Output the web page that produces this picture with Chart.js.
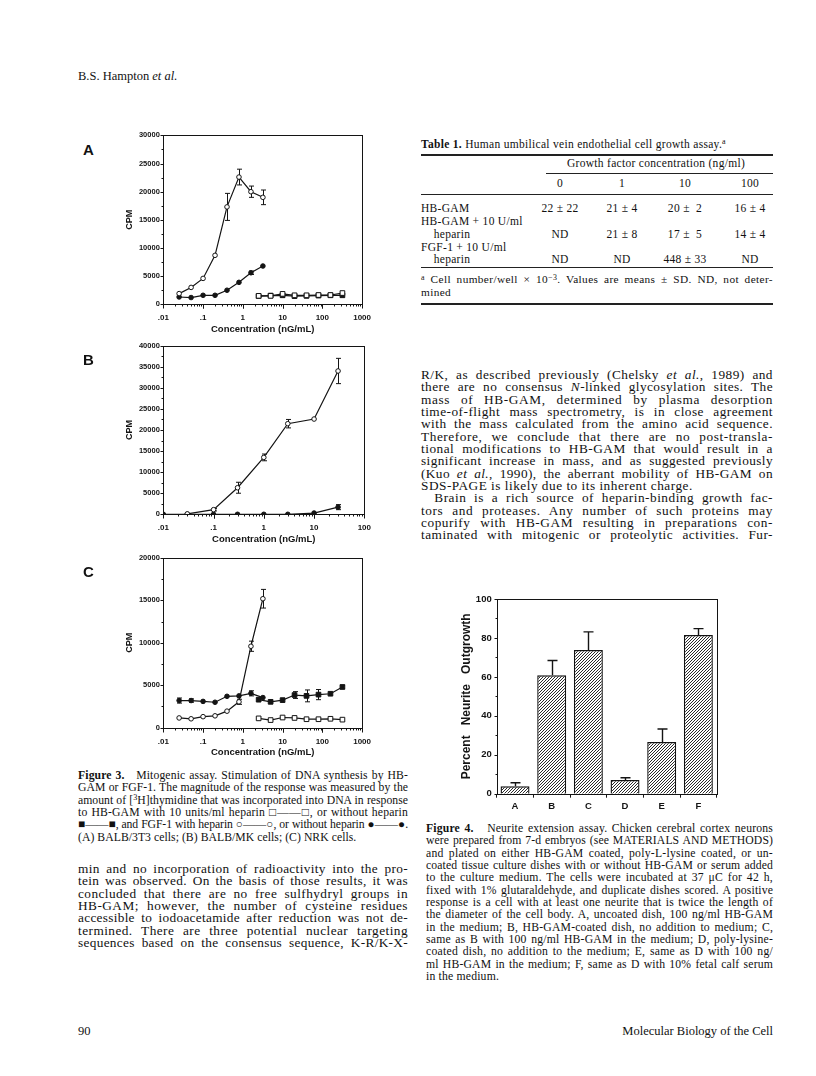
<!DOCTYPE html>
<html>
<head>
<meta charset="utf-8">
<script src="https://cdn.jsdelivr.net/npm/chart.js@4.4.1/dist/chart.umd.min.js"></script>
<style>
  html, body { margin: 0; padding: 0; background: #fff; }
  body { width: 816px; height: 1076px; position: relative; overflow: hidden; color: #111;
         font-family: 'Liberation Serif', 'DejaVu Serif', serif; }
  .ln { position: absolute; text-align: justify; text-align-last: justify; }
  .ln.l { text-align: left; text-align-last: left; }
  .tx { position: absolute; white-space: nowrap; }
  .rule { position: absolute; background: #222; }
  .lab { position: absolute; font: bold 15px 'Liberation Sans', Arial, sans-serif; }
  .sup { font-size: 70%; position: relative; top: -0.45em; }
  canvas { position: absolute; }
</style>
</head>
<body>
<canvas id="figA"></canvas>
<canvas id="figB"></canvas>
<canvas id="figC"></canvas>
<canvas id="fig4"></canvas>
<div id="page"></div>
<script>
// ---- 図3 A (BALB/3T3) ----
const concCircA = [0.025, 0.05, 0.1, 0.2, 0.4, 0.8, 1.6, 3.2];
const fgfHepA = [1900, 3000, 4600, 8700, 17300, 22600, 20000, 19000];
const fgfHepErrA = [0, 0, 0, 0, 2400, 1400, 1000, 1300];
const fgfA = [1300, 1200, 1600, 1600, 2500, 3900, 5600, 6800];
const fgfErrA = [0, 0, 0, 0, 0, 0, 300, 0];
const concSqA = [2.5, 5, 10, 20, 40, 80, 160, 320];
const gamHepA = [1500, 1500, 1850, 1600, 1600, 1650, 1650, 2000];
const gamA = [1450, 1550, 1600, 1450, 1500, 1550, 1600, 1600];

// ---- 図3 B (BALB/MK) ----
const concB = [0.03, 0.1, 0.3, 1, 3, 10, 30];
const fgfHepB = [100, 1100, 6300, 13500, 21500, 22600, 34000];
const fgfHepErrB = [0, 300, 1300, 800, 1000, 0, 3000];
const concFgfB = [0.01, 0.03, 0.1, 0.3, 1, 3, 10, 30];
const fgfB = [0, 0, 0, 0, 0, 0, 300, 1700];
const fgfErrB = [0, 0, 0, 0, 0, 0, 0, 600];

// ---- 図3 C (NRK) ----
const concCircC = [0.025, 0.05, 0.1, 0.2, 0.4, 0.8, 1.6, 3.2];
const fgfHepC = [1150, 1050, 1300, 1400, 1950, 3050, 9600, 15200];
const fgfHepErrC = [0, 0, 0, 0, 0, 300, 600, 1100];
const fgfC = [3200, 3200, 3100, 3000, 3700, 3750, 4050, 3550];
const fgfErrC = [300, 200, 0, 0, 0, 0, 300, 0];
const concSqC = [2.5, 5, 10, 20, 40, 80, 160, 320];
const gamHepC = [1100, 900, 1200, 1150, 1000, 1000, 1050, 950];
const gamC = [3300, 3050, 3250, 3850, 3750, 3900, 4000, 4800];
const gamErrC = [0, 0, 0, 400, 700, 600, 0, 200];

// 軸の目盛
const xTicks3 = [0.01, 0.1, 1, 10, 100, 1000];
const xLabels3 = ['.01', '.1', '1', '10', '100', '1000'];
const xTicksB = [0.01, 0.1, 1, 10, 100];
const xLabelsB = ['.01', '.1', '1', '10', '100'];

// ---- 図4 ----
const groups4 = ['A', 'B', 'C', 'D', 'E', 'F'];
const outgrowth = [3.8, 60.8, 73.8, 7.0, 26.5, 81.5];
const outgrowthErr = [1.8, 7.6, 9.3, 1.2, 6.7, 3.3];

const INK = '#141414';
const SANS = "'Liberation Sans', Arial, sans-serif";

// 枠と細かい目盛を描くプラグイン
const axisMarks = {
  id: 'axisMarks',
  afterDraw(chart) {
    const { ctx, chartArea: a } = chart;
    const xs = chart.scales.x, ys = chart.scales.y;
    const L = Math.round(a.left) + 0.5, R = Math.round(a.right) + 0.5;
    const T = Math.round(a.top) + 0.5, B = Math.round(a.bottom) + 0.5;
    ctx.save();
    ctx.strokeStyle = INK;
    ctx.lineWidth = 1;
    ctx.strokeRect(L, T, R - L, B - T);
    ctx.beginPath();
    const yt = ys.ticks.map(t => t.value);
    yt.forEach((v, i) => {
      const p = Math.round(ys.getPixelForValue(v)) + 0.5;
      ctx.moveTo(L - 3, p); ctx.lineTo(L, p);
      if (i < yt.length - 1) {
        const m = Math.round(ys.getPixelForValue((v + yt[i + 1]) / 2)) + 0.5;
        ctx.moveTo(L - 2, m); ctx.lineTo(L, m);
      }
    });
    if (xs.type === 'logarithmic') {
      for (let d = xs.min; d < xs.max * 0.999; d *= 10) {
        for (let m = 1; m <= 10; m++) {
          const v = d * m;
          if (v > xs.max * 1.001) break;
          const p = Math.round(xs.getPixelForValue(v)) + 0.5;
          const len = (m === 1 || m === 10) ? 4 : 2;
          ctx.moveTo(p, B); ctx.lineTo(p, B + len);
        }
      }
    }
    ctx.stroke();
    ctx.restore();
  }
};

// エラーバー
function errorBars(chart, onlyUp) {
  const { ctx } = chart;
  const ys = chart.scales.y;
  ctx.save();
  ctx.strokeStyle = INK;
  chart.data.datasets.forEach((ds, i) => {
    if (!ds.errors) return;
    const meta = chart.getDatasetMeta(i);
    ctx.lineWidth = ds.errWidth || 1;
    meta.data.forEach((el, j) => {
      const e = ds.errors[j];
      if (!e) return;
      const raw = ds.data[j];
      const v = typeof raw === 'number' ? raw : raw.y;
      const top = ys.getPixelForValue(v + e);
      const bot = onlyUp ? el.y : ys.getPixelForValue(v - e);
      const cap = ds.capHalf || 2.5;
      const x = Math.round(el.x) + 0.5;
      ctx.beginPath();
      ctx.moveTo(x, top); ctx.lineTo(x, bot);
      ctx.moveTo(x - cap, top); ctx.lineTo(x + cap, top);
      if (!onlyUp) { ctx.moveTo(x - cap, bot); ctx.lineTo(x + cap, bot); }
      ctx.stroke();
    });
  });
  ctx.restore();
}
const errLine = { id: 'errLine', beforeDatasetsDraw(chart) { errorBars(chart, false); } };
const errBar = { id: 'errBar', afterDatasetsDraw(chart) { errorBars(chart, true); } };

function series(xs, ys, errs, filled, style) {
  return {
    data: xs.map((x, i) => ({ x: x, y: ys[i] })),
    errors: errs,
    borderColor: INK,
    borderWidth: 1.2,
    pointStyle: style,
    pointRadius: style === 'rect' ? 3.3 : 2.3,
    pointBorderWidth: 1,
    pointBorderColor: INK,
    pointBackgroundColor: filled ? INK : '#fff',
    tension: 0
  };
}

function logChart(id, area, xTicks, xLabels, xMax, yMax, yStep, datasets) {
  const cv = document.getElementById(id);
  const left = Math.floor(area.left) - 53;
  const top = Math.floor(area.top) - 12;
  const W = Math.ceil(area.right) + 12 - left;
  const H = Math.ceil(area.bottom + 31) - top;
  const yW = area.left - left;
  const padT = area.top - top;
  const padR = left + W - area.right;
  const xH = top + H - area.bottom;
  cv.style.left = left + 'px';
  cv.style.top = top + 'px';
  cv.width = W; cv.height = H;
  new Chart(cv, {
    type: 'line',
    data: { datasets: datasets },
    options: {
      responsive: false,
      animation: false,
      devicePixelRatio: 1,
      layout: { padding: { left: 0, top: padT, right: padR, bottom: 0 } },
      plugins: { legend: { display: false }, tooltip: { enabled: false } },
      scales: {
        x: {
          type: 'logarithmic', min: 0.01, max: xMax,
          grid: { display: false, drawTicks: false }, border: { display: false },
          afterBuildTicks: s => { s.ticks = xTicks.map(v => ({ value: v })); },
          afterFit: s => { s.height = xH; },
          ticks: {
            autoSkip: false, maxRotation: 0, padding: 9, color: INK,
            font: { family: SANS, size: 8, weight: 'bold' },
            callback: (v, i) => xLabels[i]
          },
          title: {
            display: true, text: 'Concentration (nG/mL)', color: INK,
            font: { family: SANS, size: 9.5, weight: 'bold' },
            padding: { top: 0, bottom: xH - 25 - 5.7 }
          }
        },
        y: {
          min: 0, max: yMax,
          grid: { display: false, drawTicks: false }, border: { display: false },
          afterFit: s => { s.width = yW; },
          ticks: {
            stepSize: yStep, padding: 3.5, color: INK,
            font: { family: SANS, size: 7.5, weight: 'bold' },
            callback: v => String(v)
          },
          title: {
            display: true, text: 'CPM', color: INK,
            font: { family: SANS, size: 9, weight: 'bold' },
            padding: { top: yW - 33.3 - 5.4, bottom: 0 }
          }
        }
      }
    },
    plugins: [errLine, axisMarks]
  });
}

logChart('figA', { left: 163.3, right: 367.3, top: 135.4, bottom: 304.3 }, xTicks3, xLabels3, 1000, 30000, 5000, [
  series(concCircA, fgfHepA, fgfHepErrA, false, 'circle'),
  series(concCircA, fgfA, fgfErrA, true, 'circle'),
  series(concSqA, gamHepA, null, false, 'rect'),
  series(concSqA, gamA, null, true, 'rect')
]);
logChart('figB', { left: 163.3, right: 367.3, top: 345.7, bottom: 514.3 }, xTicksB, xLabelsB, 100, 40000, 5000, [
  series(concB, fgfHepB, fgfHepErrB, false, 'circle'),
  series(concFgfB, fgfB, fgfErrB, true, 'circle')
]);
logChart('figC', { left: 163.3, right: 367.3, top: 558, bottom: 727.7 }, xTicks3, xLabels3, 1000, 20000, 5000, [
  series(concCircC, fgfHepC, fgfHepErrC, false, 'circle'),
  series(concCircC, fgfC, fgfErrC, true, 'circle'),
  series(concSqC, gamHepC, null, false, 'rect'),
  series(concSqC, gamC, gamErrC, true, 'rect')
]);

// 図4 棒グラフ
(function () {
  const area = { left: 496.7, right: 716.7, top: 599, bottom: 793.7 };
  const cv = document.getElementById('fig4');
  const left = Math.floor(area.left) - 40;
  const top = Math.floor(area.top) - 12;
  const W = Math.ceil(area.right) + 10 - left;
  const H = Math.ceil(area.bottom + 20) - top;
  cv.style.left = left + 'px'; cv.style.top = top + 'px';
  cv.width = W; cv.height = H;
  const yW = area.left - left, xH = top + H - area.bottom;

  // 斜線のパターン
  const pc = document.createElement('canvas');
  pc.width = 3; pc.height = 3;
  const g = pc.getContext('2d');
  g.fillStyle = '#fff'; g.fillRect(0, 0, 3, 3);
  g.fillStyle = '#2a2a2a';
  g.fillRect(0, 2, 1, 1); g.fillRect(1, 1, 1, 1); g.fillRect(2, 0, 1, 1);
  const hatch = cv.getContext('2d').createPattern(pc, 'repeat');

  new Chart(cv, {
    type: 'bar',
    data: {
      labels: groups4,
      datasets: [{
        data: outgrowth, errors: outgrowthErr, errWidth: 1.4, capHalf: 5,
        backgroundColor: hatch, borderColor: INK, borderWidth: 1.4,
        categoryPercentage: 1, barPercentage: 0.79
      }]
    },
    options: {
      responsive: false, animation: false, devicePixelRatio: 1,
      layout: { padding: { left: 0, top: area.top - top, right: left + W - area.right, bottom: 0 } },
      plugins: { legend: { display: false }, tooltip: { enabled: false } },
      scales: {
        x: {
          grid: { display: true, drawOnChartArea: false, tickLength: 4, color: INK, offset: true },
          border: { display: false },
          afterFit: s => { s.height = xH; },
          ticks: { padding: 2.6, color: INK, font: { family: SANS, size: 9.5, weight: 'bold' } }
        },
        y: {
          min: 0, max: 100,
          grid: { display: false, drawTicks: false }, border: { display: false },
          afterFit: s => { s.width = yW; },
          ticks: { stepSize: 20, padding: 5, color: INK, font: { family: SANS, size: 9.5, weight: 'bold' } },
          title: {
            display: true, text: 'Percent   Neurite   Outgrowth', color: INK,
            font: { family: SANS, size: 12, weight: 'bold' },
            padding: { top: yW - 29.7 - 7.2, bottom: 0 }
          }
        }
      }
    },
    plugins: [errBar, axisMarks]
  });
})();

// ---- 本文のテキスト ----
const page = document.getElementById('page');
function put(html, x, yc, size, extra) {
  const d = document.createElement('div');
  d.className = 'tx';
  d.innerHTML = html;
  d.style.left = x + 'px';
  d.style.top = (yc - size * 0.6) + 'px';
  d.style.fontSize = size + 'px';
  d.style.lineHeight = (size * 1.2) + 'px';
  if (extra) Object.assign(d.style, extra);
  page.appendChild(d);
  return d;
}
// 行ごとに字間を少し広げて段幅に合わせる
function block(lines, x, w, y0, step, size, leftIdx, indentIdx) {
  const spacings = [];
  const divs = lines.map((t, i) => {
    const d = document.createElement('div');
    d.className = 'ln' + (leftIdx.includes(i) ? ' l' : '');
    d.innerHTML = t;
    d.style.left = x + 'px';
    d.style.top = (y0 + i * step - step / 2) + 'px';
    d.style.fontSize = size + 'px';
    d.style.lineHeight = step + 'px';
    d.style.whiteSpace = 'nowrap';
    if (indentIdx && indentIdx.includes(i)) d.style.textIndent = '1em';
    page.appendChild(d);
    const nat = d.getBoundingClientRect().width;
    const n = d.textContent.length;
    if (!leftIdx.includes(i)) {
      let ls = nat > w ? (w - nat) / n - 0.05 : (w - nat) * 0.45 / n;
      ls = Math.min(ls, 0.6);
      d.style.letterSpacing = ls + 'px';
      spacings.push(ls);
    }
    return d;
  });
  const avg = spacings.length ? spacings.reduce((a, b) => a + b, 0) / spacings.length : 0.2;
  divs.forEach((d, i) => {
    if (leftIdx.includes(i)) d.style.letterSpacing = Math.max(0, Math.min(avg, 0.5)) + 'px';
    d.style.whiteSpace = 'normal';
    d.style.width = w + 'px';
    let s = parseFloat(d.style.fontSize);
    while (d.scrollHeight > step * 1.5 && s > 6) { s -= 0.2; d.style.fontSize = s + 'px'; }
  });
}

const LX = 78, LW = 330, RX = 421, RW = 352;

put('B.S. Hampton <i>et al.</i>', 78, 76, 12.5);
put('90', 78, 1031, 12.5);
put('Molecular Biology of the Cell', 0, 1031, 12.5, { left: 'auto', right: (816 - 773) + 'px' });

const labs = [['A', 150], ['B', 360], ['C', 572]];
labs.forEach(([t, y]) => {
  const d = document.createElement('div');
  d.className = 'lab'; d.textContent = t;
  d.style.left = '83px'; d.style.top = (y - 9) + 'px';
  page.appendChild(d);
});

// 表1
function rule(x, y, w, h) {
  const d = document.createElement('div');
  d.className = 'rule';
  Object.assign(d.style, { left: x + 'px', top: y + 'px', width: w + 'px', height: h + 'px' });
  page.appendChild(d);
}
function cput(html, cx, yc) {
  const d = put(html, cx, yc, 11.5, { letterSpacing: '0.3px' });
  d.style.transform = 'translateX(-50%)';
}
put('<b>Table 1.</b> Human umbilical vein endothelial cell growth assay.<span class="sup">a</span>', RX, 145, 11.5, { letterSpacing: '0.3px' });
rule(RX, 154, RW, 1.5);
const colC = [560, 622, 685, 750];
cput('Growth factor concentration (ng/ml)', 656, 164);
rule(546, 172.5, RX + RW - 546, 1);
['0', '1', '10', '100'].forEach((t, i) => cput(t, colC[i], 183.5));
rule(RX, 193.5, RW, 1);
const tblRows = [
  ['HB-GAM', 209, ['22 ± 22', '21 ± 4', '20 ±&nbsp;&nbsp;2', '16 ± 4']],
  ['HB-GAM + 10 U/ml', 222, null],
  ['&nbsp;&nbsp;&nbsp;&nbsp;heparin', 235, ['ND', '21 ± 8', '17 ±&nbsp;&nbsp;5', '14 ± 4']],
  ['FGF-1 + 10 U/ml', 247.5, null],
  ['&nbsp;&nbsp;&nbsp;&nbsp;heparin', 260, ['ND', 'ND', '448 ± 33', 'ND']]
];
tblRows.forEach(([lab, y, vals]) => {
  put(lab, RX, y, 11.5, { letterSpacing: '0.3px' });
  if (vals) vals.forEach((v, i) => cput(v, colC[i], y));
});
rule(RX, 267, RW, 1);
block(['<span class="sup">a</span> Cell number/well × 10<span class="sup">−3</span>. Values are means ± SD. ND, not deter-', 'mined'],
  RX, RW, 279.5, 12.4, 11.3, [1]);
rule(RX, 303, RW, 1.5);

// 図3 説明文
block([
  '<b>Figure 3.</b>&nbsp;&nbsp; Mitogenic assay. Stimulation of DNA synthesis by HB-',
  'GAM or FGF-1. The magnitude of the response was measured by the',
  'amount of [<span class="sup">3</span>H]thymidine that was incorporated into DNA in response',
  'to HB-GAM with 10 units/ml heparin □——□, or without heparin',
  '■——■, and FGF-1 with heparin ○——○, or without heparin ●——●.',
  '(A) BALB/3T3 cells; (B) BALB/MK cells; (C) NRK cells.'
], LX, LW, 776, 12.4, 11.7, [5]);

// 左段本文
block([
  'min and no incorporation of radioactivity into the pro-',
  'tein was observed. On the basis of those results, it was',
  'concluded that there are no free sulfhydryl groups in',
  'HB-GAM; however, the number of cysteine residues',
  'accessible to iodoacetamide after reduction was not de-',
  'termined. There are three potential nuclear targeting',
  'sequences based on the consensus sequence, K-R/K-X-'
], LX, LW, 869, 12.4, 13.3, []);

// 右段本文
block([
  'R/K, as described previously (Chelsky <i>et al.</i>, 1989) and',
  'there are no consensus <i>N</i>-linked glycosylation sites. The',
  'mass of HB-GAM, determined by plasma desorption',
  'time-of-flight mass spectrometry, is in close agreement',
  'with the mass calculated from the amino acid sequence.',
  'Therefore, we conclude that there are no post-transla-',
  'tional modifications to HB-GAM that would result in a',
  'significant increase in mass, and as suggested previously',
  '(Kuo <i>et al.</i>, 1990), the aberrant mobility of HB-GAM on',
  'SDS-PAGE is likely due to its inherent charge.',
  'Brain is a rich source of heparin-binding growth fac-',
  'tors and proteases. Any number of such proteins may',
  'copurify with HB-GAM resulting in preparations con-',
  'taminated with mitogenic or proteolytic activities. Fur-'
], RX, RW, 375, 12.35, 13.3, [9], [10]);

// 図4 説明文
block([
  '<b>Figure 4.</b>&nbsp;&nbsp; Neurite extension assay. Chicken cerebral cortex neurons',
  'were prepared from 7-d embryos (see MATERIALS AND METHODS)',
  'and plated on either HB-GAM coated, poly-L-lysine coated, or un-',
  'coated tissue culture dishes with or without HB-GAM or serum added',
  'to the culture medium. The cells were incubated at 37 μC for 42 h,',
  'fixed with 1% glutaraldehyde, and duplicate dishes scored. A positive',
  'response is a cell with at least one neurite that is twice the length of',
  'the diameter of the cell body. A, uncoated dish, 100 ng/ml HB-GAM',
  'in the medium; B, HB-GAM-coated dish, no addition to medium; C,',
  'same as B with 100 ng/ml HB-GAM in the medium; D, poly-lysine-',
  'coated dish, no addition to the medium; E, same as D with 100 ng/',
  'ml HB-GAM in the medium; F, same as D with 10% fetal calf serum',
  'in the medium.'
], RX + 5, RW - 5, 829, 12.35, 11.7, [12]);
</script>
</body>
</html>
